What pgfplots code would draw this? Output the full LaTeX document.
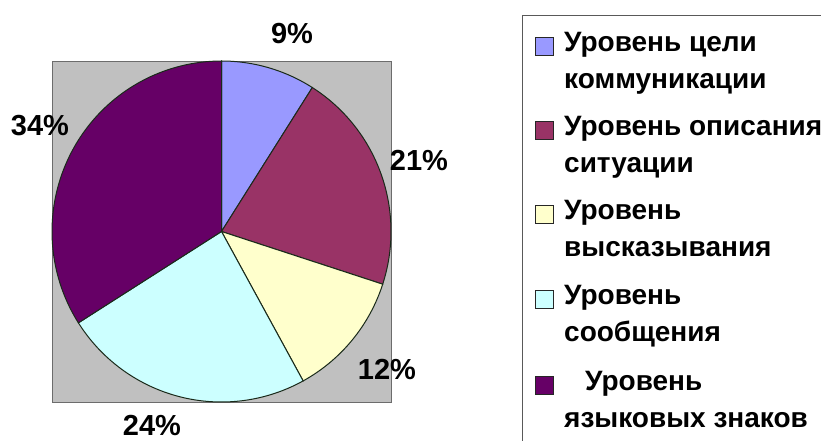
\documentclass[border=0pt]{standalone}
\usepackage{fontspec}
\setmainfont{Liberation Sans}
\usepackage{pgfplots}
\pgfplotsset{compat=1.18}
\definecolor{s1}{HTML}{9999FF}
\definecolor{s2}{HTML}{993366}
\definecolor{s3}{HTML}{FFFFCC}
\definecolor{s4}{HTML}{CCFFFF}
\definecolor{s5}{HTML}{660066}
\definecolor{plotgray}{HTML}{C0C0C0}
\definecolor{edge}{HTML}{1A2A1A}
\def\cumsum{0}
\newcommand\pieslice[2]{%
  \pgfmathsetmacro\aEnd{90-3.6*\cumsum}%
  \pgfmathsetmacro\newcum{\cumsum+#1}%
  \pgfmathsetmacro\aStart{90-3.6*\newcum}%
  \xdef\cumsum{\newcum}%
  \edef\doplot{\noexpand\addplot[draw=edge, line width=1pt, fill=#2, domain=\aStart:\aEnd, samples=90, forget plot] ({cos(x)}, {sin(x)}) -- (0,0) -- cycle;}%
  \doplot
}
\newcommand\pct{\bfseries\fontsize{29}{34}\selectfont}
\newcommand\leg{\bfseries\fontsize{28}{34}\selectfont}
\begin{document}
\begin{tikzpicture}[x=1pt,y=1pt]
\begin{axis}[
  at={(52pt,39pt)}, anchor=south west,
  width=339pt, height=341pt, scale only axis,
  xmin=-1, xmax=1, ymin=-1, ymax=1,
  xtick=\empty, ytick=\empty,
  axis background/.style={fill=plotgray},
  axis line style={draw=gray!85!black, line width=0.8pt},
  clip=false,
]
% slice values (percent), clockwise from 12 o'clock
\pieslice{9}{s1}
\pieslice{21}{s2}
\pieslice{12}{s3}
\pieslice{24}{s4}
\pieslice{34}{s5}
\node[inner sep=0, font=\pct] at (axis cs:0.416,1.164) {9\%};
\node[inner sep=0, font=\pct] at (axis cs:1.165,0.419) {21\%};
\node[inner sep=0, font=\pct] at (axis cs:0.976,-0.812) {12\%};
\node[inner sep=0, font=\pct] at (axis cs:-0.41,-1.135) {24\%};
\node[inner sep=0, font=\pct] at (axis cs:-1.071,0.619) {34\%};
\end{axis}
% legend
\draw[fill=white, draw=gray!70!black, line width=1pt] (522,425) rectangle (850,-20);
\begin{scope}[every node/.style={anchor=base west, inner sep=0, font=\leg}]
\filldraw[fill=s1, draw=black!85, line width=0.8pt] (535,386) rectangle (553,404);
\node at (564,389) {Уровень цели};
\node at (564,352) {коммуникации};
\filldraw[fill=s2, draw=black!85, line width=0.8pt] (535,302) rectangle (553,320);
\node at (564,305) {Уровень описания};
\node at (564,268) {ситуации};
\filldraw[fill=s3, draw=black!85, line width=0.8pt] (535,218) rectangle (553,236);
\node at (564,221) {Уровень};
\node at (564,184) {высказывания};
\filldraw[fill=s4, draw=black!85, line width=0.8pt] (535,133) rectangle (553,151);
\node at (564,136) {Уровень};
\node at (564,99) {сообщения};
\filldraw[fill=s5, draw=black!85, line width=0.8pt] (535,47) rectangle (553,65);
\node at (585,50) {Уровень};
\node at (564,13) {языковых знаков};
\end{scope}
\pgfresetboundingbox
\useasboundingbox (0,0) rectangle (821,441);
\end{tikzpicture}
\end{document}
